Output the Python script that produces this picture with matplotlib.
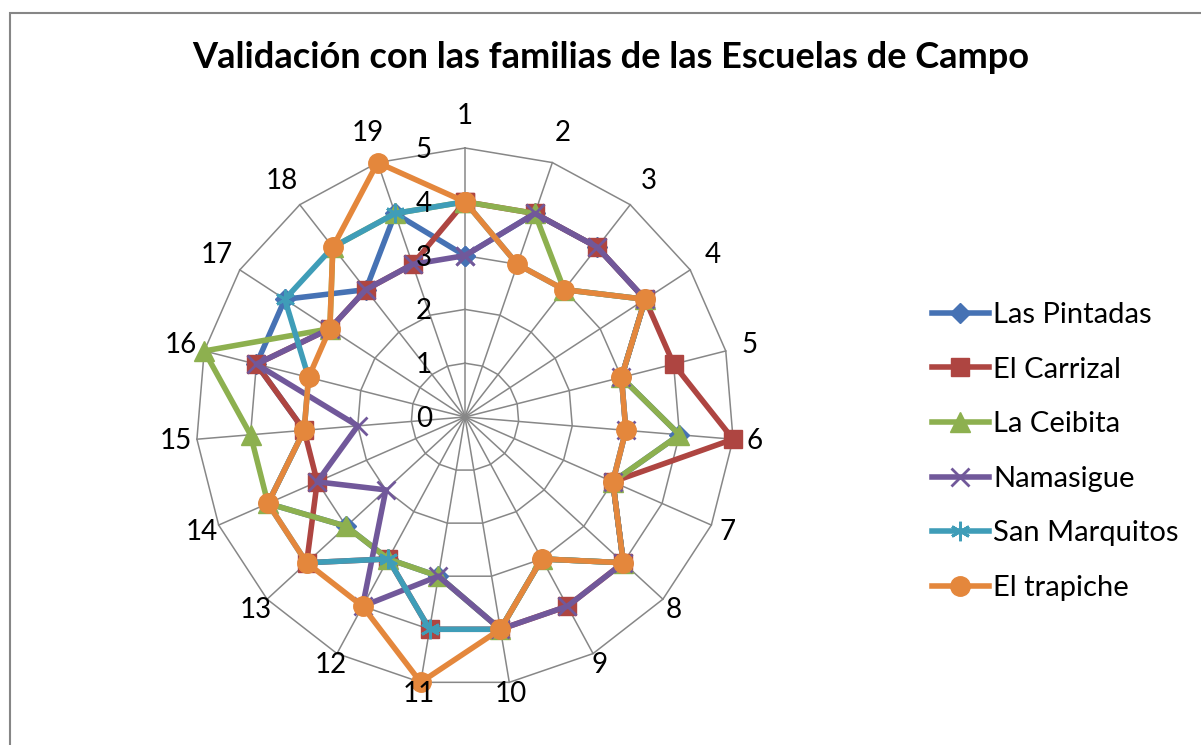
import numpy as np
import matplotlib
matplotlib.use("Agg")
import matplotlib.pyplot as plt
import matplotlib.transforms as mtrans
from matplotlib.patches import Rectangle

plt.rcParams['font.family'] = ['Lato', 'DejaVu Sans']

title = "Validación con las familias de las Escuelas de Campo"
categories = [str(i) for i in range(1, 20)]
series_names = ["Las Pintadas", "El Carrizal", "La Ceibita", "Namasigue", "San Marquitos", "El trapiche"]

las_pintadas  = [3, 4, 4, 4, 3, 4, 3, 4, 3, 4, 3, 3, 3, 4, 3, 4, 4, 3, 4]
el_carrizal   = [4, 4, 4, 4, 4, 5, 3, 4, 4, 4, 4, 3, 4, 3, 3, 4, 3, 3, 3]
la_ceibita    = [4, 4, 3, 4, 3, 4, 3, 4, 3, 4, 3, 3, 3, 4, 4, 5, 3, 4, 4]
namasigue     = [3, 4, 4, 4, 3, 3, 3, 4, 4, 4, 3, 4, 2, 3, 2, 4, 3, 3, 3]
san_marquitos = [4, 3, 3, 4, 3, 3, 3, 4, 3, 4, 4, 3, 4, 4, 3, 3, 4, 4, 4]
el_trapiche   = [4, 3, 3, 4, 3, 3, 3, 4, 3, 4, 5, 4, 4, 4, 3, 3, 3, 4, 5]

radial_ticks = [0, 1, 2, 3, 4, 5]

all_series = [las_pintadas, el_carrizal, la_ceibita, namasigue, san_marquitos, el_trapiche]
colors = ['#4672B4', '#AE4541', '#8DB04F', '#71589A', '#3F9DB8', '#E4873C']
markers = ['D', 's', '^', 'x', (6, 2, 0), 'o']
msizes = [10, 13, 14, 13, 14, 14]

W, H = 1201, 745
fig = plt.figure(figsize=(W / 100, H / 100), dpi=100)

cx, cy, R = 465, 417, 269
ax = fig.add_axes([(cx - R) / W, (H - cy - R) / H, 2 * R / W, 2 * R / H], projection='polar')
ax.set_theta_zero_location('N')
ax.set_theta_direction(-1)
ax.set_ylim(0, 5)
ax.grid(False)
ax.spines['polar'].set_visible(False)
ax.set_xticks([])
ax.set_yticks([])
ax.patch.set_alpha(0)

n = len(categories)
angles = np.arange(n) * 2 * np.pi / n
closed = np.concatenate([angles, angles[:1]])

grid_color = '#878787'
for r in radial_ticks[1:]:
    ax.plot(closed, [r] * (n + 1), color=grid_color, lw=1.1, zorder=1, clip_on=False)
for a in angles:
    ax.plot([a, a], [0, radial_ticks[-1]], color=grid_color, lw=1.1, zorder=1, clip_on=False)

for vals, name, c, m, ms in zip(all_series, series_names, colors, markers, msizes):
    v = list(vals) + [vals[0]]
    mew = 2.0 if m in ('x', (6, 2, 0)) else 1.0
    ax.plot(closed, v, color=c, lw=4.0, marker=m, markersize=ms,
            markerfacecolor=c, markeredgecolor=c, markeredgewidth=mew,
            label=name, zorder=3, solid_joinstyle='round', clip_on=False)

unit = R / radial_ticks[-1]
for a, lab in zip(angles, categories):
    rr = (291 + 10 * np.cos(a)) / unit
    ax.text(a, rr, lab, ha='center', va='center', fontsize=20, color='black')

off = mtrans.offset_copy(ax.transData, fig=fig, x=-33, y=-2, units='dots')
for r in radial_ticks:
    ax.text(0, r, str(r), transform=off, ha='right', va='center', fontsize=20, color='black')

fig.text(611 / W, 1 - 57 / H, title, ha='center', va='center', fontsize=26,
         fontweight='bold', color='black')

handles, labels = ax.get_legend_handles_labels()
leg = fig.legend(handles, labels, loc='upper left', bbox_to_anchor=(932 / W, 1 - 302 / H),
                 frameon=False, fontsize=21, handlelength=1.95, handletextpad=0.15,
                 labelspacing=0.98, borderaxespad=0, borderpad=0)

fig.add_artist(Rectangle((9.5 / W, -0.1), 1.2, (H - 13.5) / H + 0.1, transform=fig.transFigure,
                         fill=False, edgecolor='#868686', lw=1.5))

fig.savefig('out.png', dpi=100)
